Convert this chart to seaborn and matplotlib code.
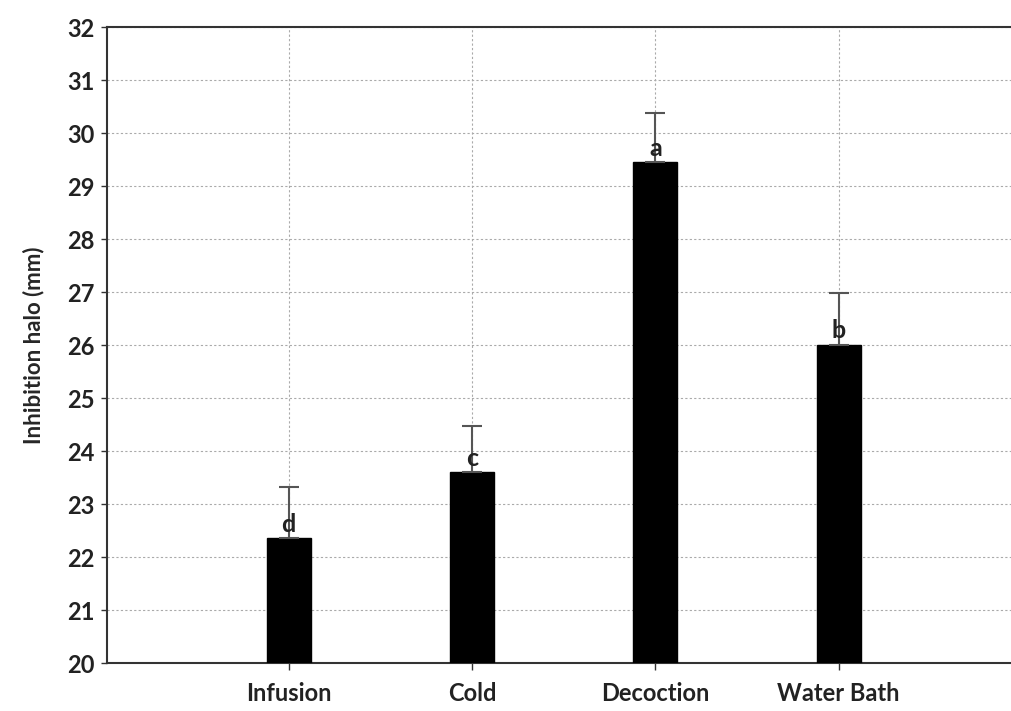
import pandas as pd
import matplotlib.pyplot as plt
import seaborn as sns

# Data
methods = ["Infusion", "Cold", "Decoction", "Water Bath"]
halo_mean = [22.35, 23.6, 29.45, 26.0]
halo_err = [0.98, 0.88, 0.92, 0.98]
letters = ["d", "c", "a", "b"]

df = pd.DataFrame({"method": methods, "halo": halo_mean})

sns.set_style("white")
plt.rcParams["font.family"] = ["Lato", "DejaVu Sans"]

fig = plt.figure(figsize=(10.11, 7.11), dpi=100)
ax = fig.add_axes([0.106, 0.0675, 0.894, 0.8945])

sns.barplot(data=df, x="method", y="halo", color="black", width=0.24,
            errorbar=None, ax=ax, zorder=3)
for p in ax.patches:
    p.set_edgecolor("black")

xpos = range(len(methods))
ax.errorbar(xpos, halo_mean, yerr=[[0] * 4, halo_err], fmt="none",
            ecolor="#555555", elinewidth=1.5, capsize=7, capthick=1.5, zorder=4)

for x, y, lab in zip(xpos, halo_mean, letters):
    ax.text(x, y + 0.05, lab, ha="center", va="bottom", fontsize=18,
            fontweight="bold", color="#222222", zorder=5)

ax.set_ylim(20, 32)
ax.set_xlim(-0.99, 3.94)
ax.set_yticks(range(20, 33))
ax.set_xlabel("")
ax.set_ylabel("Inhibition halo (mm)", fontsize=16, fontweight="bold", labelpad=16)

ax.grid(True, axis="both", linestyle=(0, (2, 2)), color="#aaaaaa", linewidth=0.8, zorder=0)
ax.set_axisbelow(True)

for s in ["left", "bottom", "top"]:
    ax.spines[s].set_color("#333333")
    ax.spines[s].set_linewidth(1.5)
ax.spines["right"].set_visible(False)

ax.tick_params(axis="y", which="major", length=4, width=1, color="#333333",
               labelsize=17, pad=5, left=True)
ax.tick_params(axis="x", which="major", length=5, width=1, color="#333333",
               labelsize=17, pad=9, bottom=True)
for t in ax.get_xticklabels() + ax.get_yticklabels():
    t.set_fontweight("bold")
    t.set_color("#222222")

fig.savefig("out.png", dpi=100)
